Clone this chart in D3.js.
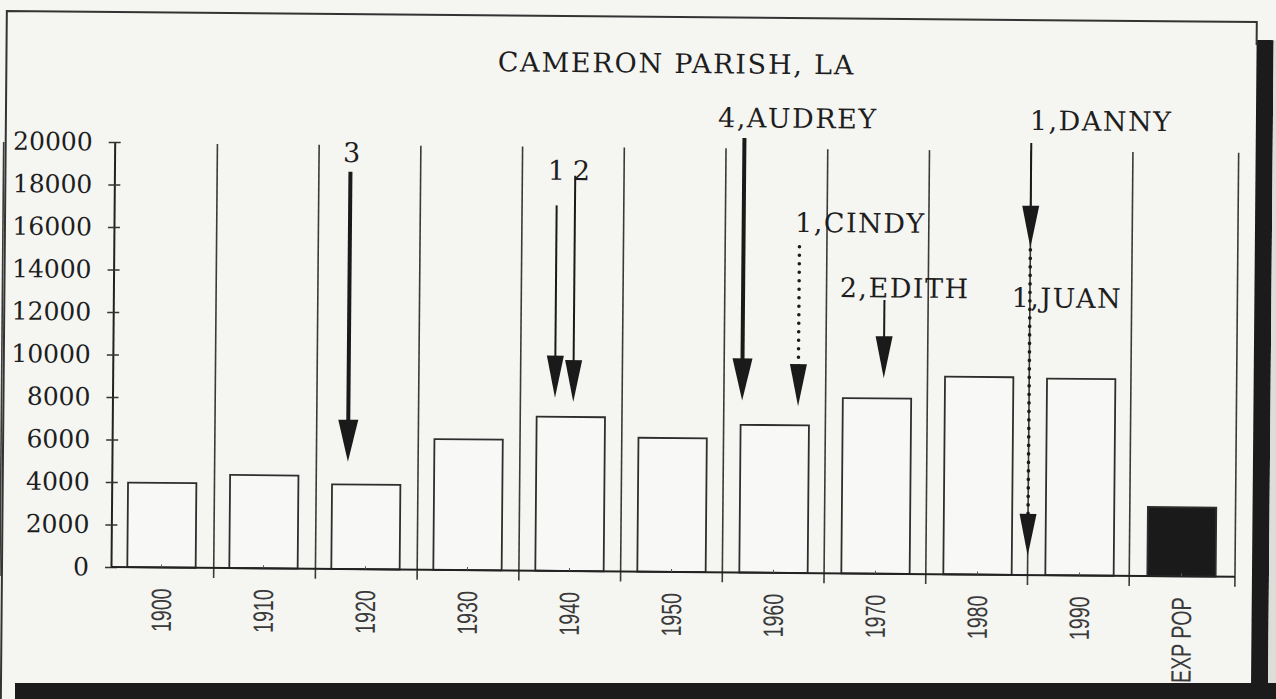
<!DOCTYPE html>
<html>
<head>
<meta charset="utf-8">
<script src="https://cdn.jsdelivr.net/npm/d3@7"></script>
<style>
  body { margin: 0; background: #f4f4f1; }
  svg { display: block; }
</style>
</head>
<body>
<div class="graph"></div>
<script>
// Census bars
var categories = ["1900", "1910", "1920", "1930", "1940", "1950", "1960", "1970", "1980", "1990", "EXP POP"];
var population = [3980, 4380, 3980, 6150, 7250, 6300, 6950, 8250, 9300, 9250, 3250];
var yTicks = [0, 2000, 4000, 6000, 8000, 10000, 12000, 14000, 16000, 18000, 20000];

// Hurricane arrows (year of storm, saffir-simpson category, track type, arrow from/to in population units)
var stormYear     = [1918.1, 1938.4, 1940.2, 1956.8, 1962.3, 1970.7, 1985.0, 1985.0];
var stormCategory = [3, 1, 2, 4, 1, 2, 1, 1];
var stormTrack    = ["hit", "hit", "hit", "hit", "near", "hit", "hit", "near"];
var stormFrom     = [18700, 17200, 18600, 20450, 15350, 12880, 20330, 15300];
var stormTo       = [5050, 8150, 7950, 8100, 7850, 9200, 15400, 900];

// Arrow captions
var labelText  = ["3", "1", "2", "4,AUDREY", "1,CINDY", "2,EDITH", "1,DANNY", "1,JUAN"];
var labelYear  = [1917.35, 1937.5, 1939.95, 1954.2, 1961.85, 1966.3, 1984.85, 1983.2];
var labelValue = [19150, 18400, 18400, 20950, 16050, 13000, 20940, 12600];

// Layout
var W = 1276, H = 699;
var axisX = 111, plotLeft = 112, plotRight = 1231, edgeX = 1235, plotBase = 567, plotTop = 142;

var svg = d3.select(".graph").append("svg")
    .attr("width", W)
    .attr("height", H);

svg.append("rect").attr("width", W).attr("height", H).attr("fill", "#f5f5f2");

// whole scanned page sits slightly tilted
var page = svg.append("g")
    .attr("transform", "rotate(0.5," + axisX + "," + plotBase + ")");

// page frame + scanner shadow on the right
page.append("rect")
    .attr("x", 1252).attr("y", 30).attr("width", 17).attr("height", 720)
    .attr("fill", "#1b1b1b");
page.append("rect")
    .attr("x", 1269).attr("y", 30).attr("width", 40).attr("height", 720)
    .attr("fill", "#dcdcd9");
page.append("path")
    .attr("d", "M2,700 L2,12 L1252,12 L1252,35")
    .attr("fill", "none")
    .attr("stroke", "#333")
    .attr("stroke-width", 2);

// Title
page.append("text")
    .attr("x", 672).attr("y", 68)
    .attr("text-anchor", "middle")
    .style("font-family", "'DejaVu Serif', serif")
    .style("font-size", "27px")
    .style("letter-spacing", "1.8px")
    .attr("fill", "#1e1e1e")
    .text("CAMERON PARISH, LA");

// Scales
var x = d3.scaleBand()
    .domain(categories)
    .range([plotLeft, plotRight])
    .paddingInner(0.33)
    .paddingOuter(0.15);
var xYear = d3.scaleLinear()
    .domain([1895, 2005])
    .range([plotLeft, plotRight]);
var y = d3.scaleLinear()
    .domain([0, 20000])
    .range([plotBase, plotTop]);

// separators between decades, plus the right edge of the plot
var seps = categories.slice(1).map(function(c) { return xYear(+c - 5); })
    .concat([xYear(1995), edgeX]);
page.selectAll(".sep")
    .data(seps)
    .enter().append("line")
    .attr("class", "sep")
    .attr("x1", function(d) { return d; })
    .attr("x2", function(d) { return d; })
    .attr("y1", y(20000) + 1)
    .attr("y2", plotBase + 10)
    .attr("stroke", "#3a3a3a")
    .attr("stroke-width", 1.6);

// Bars
page.selectAll(".bar")
    .data(population)
    .enter().append("rect")
    .attr("class", "bar")
    .attr("x", function(d, i) { return x(categories[i]); })
    .attr("y", function(d) { return y(d); })
    .attr("width", x.bandwidth())
    .attr("height", function(d) { return plotBase - y(d); })
    .attr("fill", function(d, i) { return categories[i] === "EXP POP" ? "#1a1a1a" : "#f8f8f6"; })
    .attr("stroke", "#2e2e2e")
    .attr("stroke-width", 1.8);

// Axes
var yAxis = page.append("g")
    .attr("transform", "translate(" + axisX + ",0)")
    .call(d3.axisLeft(y).tickValues(yTicks).tickSize(6).tickSizeOuter(0).tickPadding(16)
        .tickFormat(d3.format("d")));
yAxis.select(".domain").attr("stroke", "#222").attr("stroke-width", 2);
yAxis.selectAll(".tick line").attr("x1", -6).attr("x2", 6).attr("stroke", "#333").attr("stroke-width", 1.5);
yAxis.selectAll(".tick text")
    .style("font-family", "'DejaVu Serif', serif")
    .style("font-size", "25px")
    .attr("fill", "#1e1e1e");

var xAxis = page.append("g")
    .attr("transform", "translate(0," + plotBase + ")")
    .call(d3.axisBottom(x).tickSize(-3).tickSizeOuter(0));
xAxis.select(".domain")
    .attr("d", "M" + axisX + ",0H" + edgeX)
    .attr("stroke", "#222").attr("stroke-width", 2);
xAxis.selectAll(".tick line").attr("stroke", "#555");
xAxis.selectAll(".tick text")
    .attr("y", 0).attr("dy", null)
    .attr("transform", "translate(0,21) rotate(-90) scale(0.7,1)")
    .attr("text-anchor", "end")
    .attr("dominant-baseline", "central")
    .style("font-family", "'Liberation Sans', Arial, sans-serif")
    .style("font-size", "28px")
    .attr("fill", "#3a3a3a");

// Storm arrows
var headLen = 42;
var storms = stormYear.map(function(yr, i) {
  return {x: xYear(yr), from: stormFrom[i], to: stormTo[i], cat: stormCategory[i], track: stormTrack[i]};
});

var arrows = page.selectAll(".storm")
    .data(storms)
    .enter().append("g")
    .attr("class", "storm");

arrows.append("line")
    .attr("x1", function(d) { return d.x; })
    .attr("x2", function(d) { return d.x; })
    .attr("y1", function(d) { return y(d.from); })
    .attr("y2", function(d) { return y(d.to) - headLen + 4; })
    .attr("stroke", "#1a1a1a")
    .attr("stroke-width", function(d) { return d.track === "near" ? 3.6 : (d.cat >= 3 ? 4 : 2); })
    .attr("stroke-linecap", function(d) { return d.track === "near" ? "round" : "butt"; })
    .attr("stroke-dasharray", function(d) { return d.track === "near" ? "0,8.5" : null; });

arrows.append("path")
    .attr("d", function(d) {
      var w = d.cat >= 3 ? 10 : 8.5, ty = y(d.to);
      return "M" + (d.x - w) + "," + (ty - headLen) +
             "L" + (d.x + w) + "," + (ty - headLen) +
             "L" + d.x + "," + ty + "Z";
    })
    .attr("fill", "#1a1a1a");

page.selectAll(".stormlabel")
    .data(labelText)
    .enter().append("text")
    .attr("class", "stormlabel")
    .attr("x", function(d, i) { return xYear(labelYear[i]); })
    .attr("y", function(d, i) { return y(labelValue[i]); })
    .style("font-family", "'DejaVu Serif', serif")
    .style("font-size", "27px")
    .style("letter-spacing", "1.5px")
    .attr("fill", "#1e1e1e")
    .text(function(d) { return d; });

// scanner shadow along the bottom
svg.append("rect")
    .attr("x", 15).attr("y", 683).attr("width", W - 15).attr("height", 20)
    .attr("fill", "#1b1b1b");
</script>
</body>
</html>
